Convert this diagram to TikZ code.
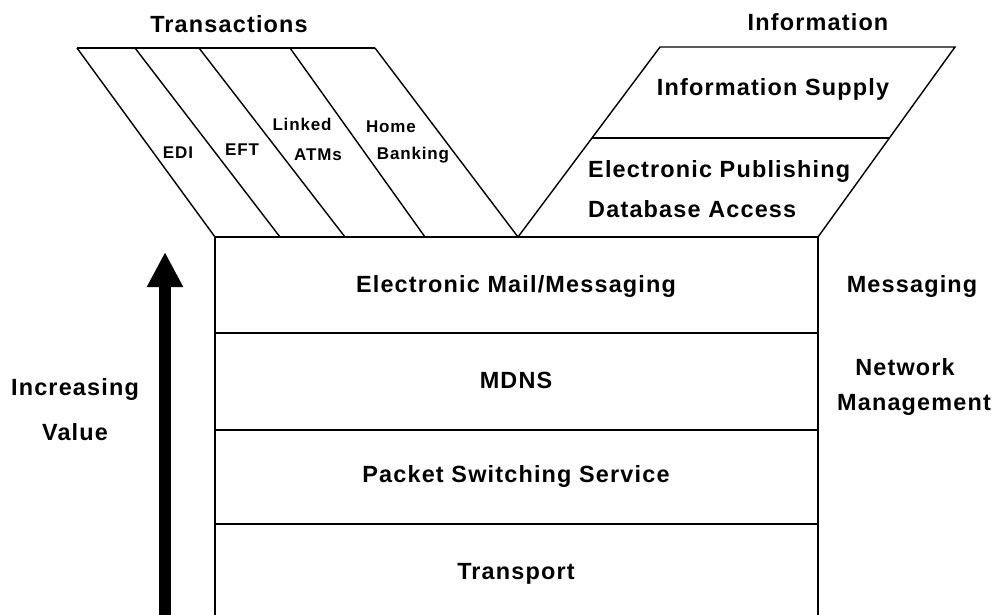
\documentclass[tikz,border=0pt]{standalone}
\usepackage{fontspec}
\setmainfont{Liberation Sans}[LetterSpace=5]
\usetikzlibrary{arrows.meta}

\begin{document}
\begin{tikzpicture}[
    x=0.03cm, y=-0.03cm,
    layer/.style={line width=1.2pt},
    big/.style={font=\bfseries\fontsize{20}{24}\selectfont, anchor=base, inner sep=0pt},
    small/.style={font=\bfseries\fontsize{14.5}{17}\selectfont, anchor=base, inner sep=0pt}
]
\useasboundingbox (0,0) rectangle (1005,615);
% Stack of services
\coordinate (tl) at (215,237);
\coordinate (tr) at (818,237);
\coordinate (bl) at (215,615);
\coordinate (br) at (818,615);
\draw[layer] (bl) -- (tl) -- (tr) -- (br);
\foreach \y in {333,430,524}
    \draw[layer] (215,\y) -- (818,\y);
\node[big] (mail) at (516,292) {Electronic Mail/Messaging};
\node[big] (mdns) at (516,388) {MDNS};
\node[big] (pss) at (516,482) {Packet Switching Service};
\node[big] (trans) at (516,579) {Transport};
% Left funnel - Transactions
\draw[layer] (77,48) -- (375,48);
\foreach \a/\b in {77/215,135/280,199/345,290/425,375/518}
    \draw[layer] (\a,48) -- (\b,237);
\node[big] (tra) at (229,32) {Transactions};
\node[small] (edi) at (178,158) {EDI};
\node[small] (eft) at (242,155) {EFT};
\node[small] (linked) at (302,130) {Linked};
\node[small] (atms) at (318,160) {ATMs};
\node[small] (home) at (391,132) {Home};
\node[small] (banking) at (413,159) {Banking};
% Right funnel - Information
\draw[layer] (tr) -- (955,47) -- (660,47) -- (518,237);
\draw[layer] (592,138) -- (889,138);
\node[big] (info) at (818,30) {Information};
\node[big] (supply) at (773,95) {Information Supply};
\node[big, anchor=base west] (epub) at (588,177) {Electronic Publishing};
\node[big, anchor=base west] (dbase) at (588,217) {Database Access};
% Side labels
\node[big] (msg) at (912,292) {Messaging};
\node[big] (net) at (905,375) {Network};
\node[big] (mgmt) at (914,410) {Management};
\node[big] (incr) at (75,395) {Increasing};
\node[big] (val) at (75,440) {Value};
% Value arrow
\coordinate (vbot) at (165,615);
\coordinate (vtop) at (165,252);
\draw[line width=10pt, -{Triangle[length=30pt,width=29pt]}] (vbot) -- (vtop);
\end{tikzpicture}
\end{document}
